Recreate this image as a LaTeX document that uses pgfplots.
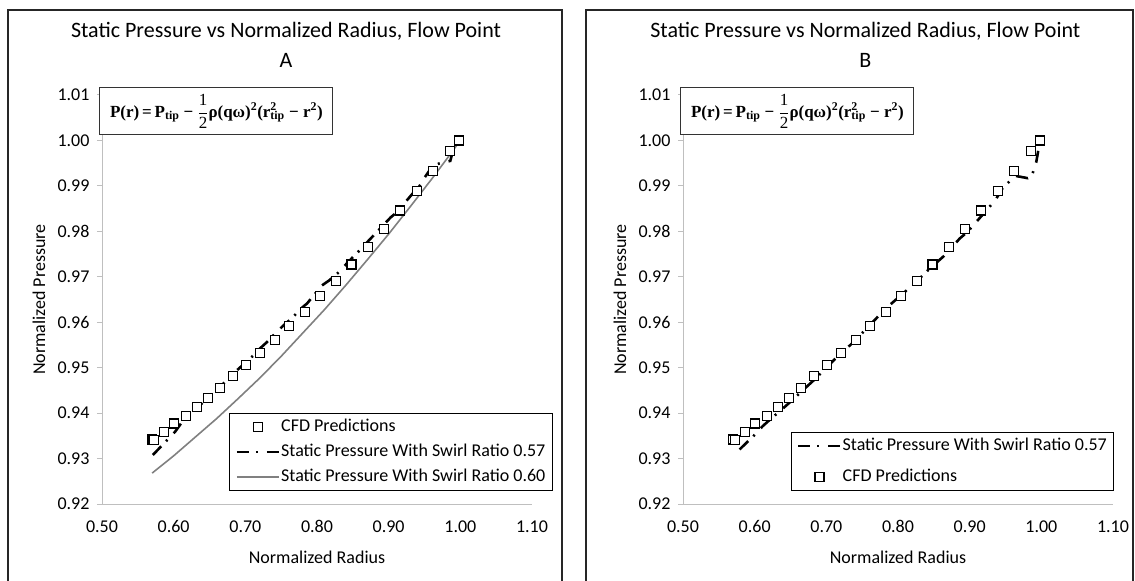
\documentclass[border=0pt]{standalone}
\usepackage{fontspec}
\setmainfont{Carlito}
\newfontfamily\formfont{Liberation Serif}
\usepackage{pgfplots}
\pgfplotsset{compat=1.18}

% CFD predictions (same in both panels)
\pgfplotstableread{
r p
0.570 0.9342
0.572 0.9341
0.586 0.9359
0.601 0.9377
0.617 0.9394
0.633 0.9413
0.648 0.9433
0.665 0.9456
0.683 0.9481
0.701 0.9506
0.721 0.9533
0.741 0.9561
0.761 0.9591
0.783 0.9623
0.804 0.9657
0.826 0.9690
0.848 0.9727
0.871 0.9766
0.894 0.9806
0.916 0.9846
0.939 0.9889
0.962 0.9933
0.986 0.9976
0.998 1.0000
}\cfd

% panel A, swirl ratio 0.57
\pgfplotstableread{
r p
0.571 0.9308
0.582 0.9326
0.591 0.9341
0.602 0.9359
0.612 0.9381
0.621 0.9396
0.645 0.9429
0.652 0.9438
0.677 0.9477
0.686 0.9491
0.698 0.9508
0.712 0.9528
0.721 0.9543
0.732 0.9559
0.742 0.9576
0.754 0.9594
0.765 0.9609
0.779 0.9632
0.786 0.9641
0.807 0.9681
0.817 0.9692
0.829 0.9708
0.845 0.9735
0.860 0.9759
0.870 0.9776
0.879 0.9791
0.903 0.9831
0.910 0.9840
0.921 0.9860
0.935 0.9886
0.942 0.9897
0.950 0.9918
0.961 0.9943
0.970 0.9949
0.986 0.9955
0.991 0.9985
0.998 1.0000
}\swirlA

% panel A, swirl ratio 0.60
\pgfplotstableread{
r p
0.570 0.9268
0.600 0.9306
0.630 0.9347
0.660 0.9388
0.690 0.9432
0.720 0.9477
0.750 0.9525
0.780 0.9576
0.810 0.9627
0.840 0.9681
0.870 0.9737
0.900 0.9794
0.930 0.9854
0.960 0.9915
0.980 0.9957
1.000 1.0000
}\swirlAsix

% panel B, swirl ratio 0.57
\pgfplotstableread{
r p
0.579 0.9320
0.590 0.9337
0.597 0.9347
0.611 0.9371
0.623 0.9388
0.635 0.9404
0.650 0.9425
0.667 0.9450
0.685 0.9476
0.709 0.9514
0.723 0.9538
0.733 0.9549
0.755 0.9584
0.776 0.9619
0.790 0.9640
0.804 0.9659
0.826 0.9690
0.841 0.9713
0.855 0.9733
0.865 0.9747
0.886 0.9784
0.897 0.9799
0.906 0.9815
0.920 0.9840
0.936 0.9869
0.946 0.9895
0.953 0.9906
0.964 0.9922
0.981 0.9917
0.988 0.9928
0.993 0.9953
0.997 0.9990
}\swirlB

\newcommand{\formula}{{\formfont\fontsize{17bp}{19bp}\selectfont\bfseries
P(r)\,=\,P\textsubscript{tip} − $\displaystyle\frac{\mbox{\mdseries 1}}{\mbox{\mdseries 2}}$ρ(qω)\textsuperscript{2}(r\rlap{\textsuperscript{2}}\textsubscript{tip} − r\textsuperscript{2})}}

\pgfplotsset{
  panel/.style={
    scale only axis, width=430bp, height=409bp, anchor=south west,
    xmin=0.5, xmax=1.1, ymin=0.92, ymax=1.01,
    axis x line*=bottom, axis y line*=left,
    axis line style={black!25, line width=1bp, -},
    xtick={0.5,0.6,0.7,0.8,0.9,1.0,1.1},
    ytick={0.92,0.93,0.94,0.95,0.96,0.97,0.98,0.99,1.00,1.01},
    x tick style={draw=none}, y tick style={black!25, line width=1bp},
    tick align=outside, major tick length=5bp,
    xticklabel style={yshift=-8bp},
    yticklabel style={xshift=-4bp},
    /pgf/number format/.cd, fixed, fixed zerofill, precision=2, assume math mode=true,
    /pgfplots/.cd,
    tick label style={font=\fontsize{18bp}{20bp}\selectfont},
    label style={font=\fontsize{18bp}{20bp}\selectfont},
    xlabel={Normalized Radius}, ylabel={Normalized Pressure},
    xlabel style={at={(axis description cs:0.5,-0.1296)}, anchor=center},
    ylabel style={at={(axis description cs:-0.1465,0.5)}, anchor=center},
    title style={align=center, font=\fontsize{22bp}{30bp}\selectfont, anchor=center, inner sep=0pt},
    clip=false,
    legend cell align=left,
    legend style={draw=black, line width=1.2bp, font=\fontsize{18bp}{20bp}\selectfont,
      anchor=north west, inner xsep=6bp, inner ysep=4bp,
      nodes={inner sep=1bp, text height=13bp, text depth=4bp}},
  },
  cfdstyle/.style={only marks, mark=square*, mark size=4.5bp,
    mark options={fill=white, draw=black, line width=1.2bp},
    legend image code/.code={\draw[##1] plot coordinates {(21bp,0bp)};}},
  dashdot/.style={black, line width=2.6bp, dash pattern=on 12bp off 7bp on 2bp off 9bp, mark=none,
    legend image code/.code={\draw[##1] (0bp,0bp) -- (42bp,0bp);}},
  grayline/.style={color={rgb,255:red,128;green,128;blue,128}, line width=1.6bp, mark=none,
    legend image code/.code={\draw[##1] (0bp,0bp) -- (42bp,0bp);}},
}

\begin{document}
\begin{tikzpicture}
\useasboundingbox (0,0) rectangle (1135bp,581bp);
\draw[black!85, line width=1.3bp] (8bp,-5bp) -- (8bp,571bp) -- (562bp,571bp) -- (562bp,-5bp);
\draw[black!85, line width=1.3bp] (586bp,-5bp) -- (586bp,571bp) -- (1133bp,571bp) -- (1133bp,-5bp);

\begin{axis}[panel, at={(102bp,77bp)},
  title={Static Pressure vs Normalized Radius, Flow Point\\A},
  title style={at={(axis description cs:0.428,1.109)}},
  legend style={at={(axis description cs:0.2953,0.2225)}, row sep=6bp}]
\addplot[cfdstyle] table[x=r,y=p] {\cfd};
\addplot[dashdot] table[x=r,y=p] {\swirlA};
\addplot[grayline] table[x=r,y=p] {\swirlAsix};
\legend{CFD Predictions, Static Pressure With Swirl Ratio 0.57, Static Pressure With Swirl Ratio 0.60}
\node[draw=black!80, line width=1bp, fill=white, minimum width=233bp, minimum height=47bp, inner sep=0pt]
  at (axis description cs:0.266,0.9597) {\formula};
\end{axis}

\begin{axis}[panel, at={(683bp,77bp)},
  title={Static Pressure vs Normalized Radius, Flow Point\\B},
  title style={at={(axis description cs:0.424,1.109)}},
  legend style={at={(axis description cs:0.25,0.176)}, row sep=12bp}]
\addplot[dashdot] table[x=r,y=p] {\swirlB};
\addplot[cfdstyle] table[x=r,y=p] {\cfd};
\legend{Static Pressure With Swirl Ratio 0.57, CFD Predictions}
\node[draw=black!80, line width=1bp, fill=white, minimum width=233bp, minimum height=47bp, inner sep=0pt]
  at (axis description cs:0.266,0.9597) {\formula};
\end{axis}
\end{tikzpicture}
\end{document}
